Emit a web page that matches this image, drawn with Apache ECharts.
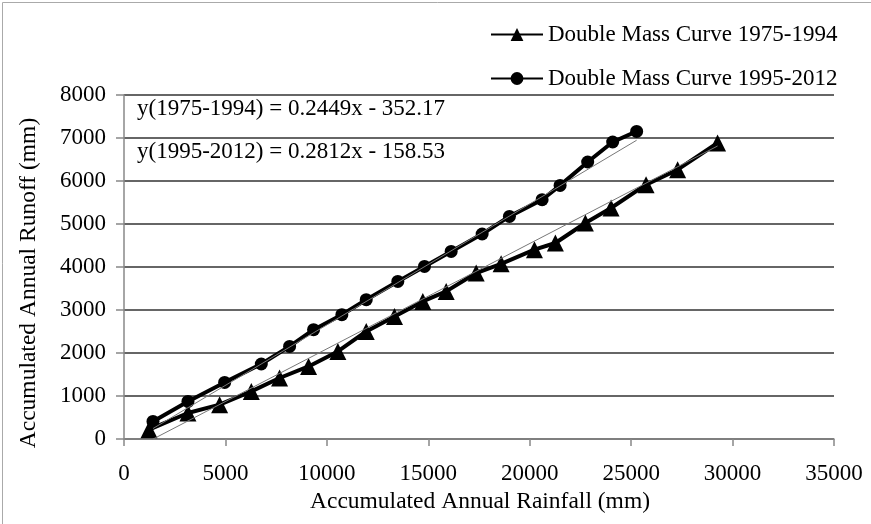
<!DOCTYPE html>
<html>
<head>
<meta charset="utf-8">
<script src="https://cdn.jsdelivr.net/npm/echarts@6/dist/echarts.min.js"></script>
<style>
html,body{margin:0;padding:0;background:#fff;}
#c{width:871px;height:524px;}
</style>
</head>
<body>
<div id="c"></div>
<script>
// Series 1: 1975-1994
const rain1 = [1232, 3153, 4714, 6276, 7670, 9099, 10542, 11941, 13335, 14729, 15882, 17360, 18591, 20232, 21266, 22744, 24010, 25734, 27291, 29261];
const runoff1 = [216, 605, 798, 1107, 1419, 1688, 2037, 2502, 2851, 3200, 3433, 3860, 4073, 4402, 4558, 5023, 5372, 5914, 6263, 6884];
// Series 2: 1995-2012
const rain2 = [1429, 3153, 4961, 6768, 8163, 9345, 10739, 11941, 13498, 14813, 16128, 17655, 19000, 20611, 21498, 22857, 24089, 25271];
const runoff2 = [409, 874, 1316, 1744, 2153, 2542, 2891, 3240, 3665, 4014, 4363, 4767, 5177, 5565, 5898, 6442, 6907, 7153];
// Linear fit coefficients [slope, intercept]
const fit1 = [0.2449, -352.17];
const fit2 = [0.2812, -158.53];
const seriesNames = ['Double Mass Curve 1975-1994', 'Double Mass Curve 1995-2012'];
const eqLabels = ['y(1975-1994) = 0.2449x - 352.17', 'y(1995-2012) = 0.2812x - 158.53'];

const pairs = (xs, ys) => xs.map((x, i) => [x, ys[i]]);
const trend = (xs, f) => {
  const a = Math.min(...xs), b = Math.max(...xs);
  return [[a, f[0] * a + f[1]], [b, f[0] * b + f[1]]];
};
const plain = v => String(v);

const font = 'Liberation Serif';
const chart = echarts.init(document.getElementById('c'), null, {renderer: 'canvas'});
chart.setOption({
  animation: false,
  backgroundColor: '#fff',
  textStyle: {fontFamily: font, color: '#000'},
  grid: {left: 124, right: 37, top: 95, bottom: 85, containLabel: false},
  legend: {
    orient: 'vertical',
    left: 485, top: 18,
    itemWidth: 52, itemHeight: 16, itemGap: 21,
    data: seriesNames,
    textStyle: {fontFamily: font, fontSize: 23, color: '#000'}
  },
  xAxis: {
    type: 'value', min: 0, max: 35000, interval: 5000,
    name: 'Accumulated Annual Rainfall (mm)', nameLocation: 'middle', nameGap: 47,
    nameTextStyle: {fontFamily: font, fontSize: 23.5, color: '#000', padding: [0, 0, 0, 2]},
    axisLine: {show: true, lineStyle: {color: '#888', width: 1.5}},
    axisTick: {show: true, length: 7, lineStyle: {color: '#888', width: 1.5}},
    axisLabel: {fontFamily: font, fontSize: 23, color: '#000', margin: 23, formatter: plain},
    splitLine: {show: false}
  },
  yAxis: {
    type: 'value', min: 0, max: 8000, interval: 1000,
    name: 'Accumulated Annual Runoff (mm)', nameLocation: 'middle', nameGap: 83,
    nameTextStyle: {fontFamily: font, fontSize: 23.5, color: '#000', padding: [0, 32, 0, 0]},
    axisLine: {show: true, lineStyle: {color: '#888', width: 1.5}},
    axisTick: {show: true, length: 8, lineStyle: {color: '#888', width: 1.5}},
    axisLabel: {fontFamily: font, fontSize: 23, color: '#000', margin: 18, formatter: plain},
    splitLine: {show: true, lineStyle: {color: '#333', width: 1.5}}
  },
  graphic: [
    {type: 'text', left: 137, top: 97, style: {text: eqLabels[0], font: '23px "Liberation Serif"', fill: '#000'}},
    {type: 'text', left: 137, top: 140, style: {text: eqLabels[1], font: '23px "Liberation Serif"', fill: '#000'}},
    {type: 'rect', left: 0, top: 0, shape: {x: 0.5, y: 0.5, width: 870, height: 523}, style: {fill: 'none', stroke: '#aaa', lineWidth: 1}, silent: true}
  ],
  series: [
    {
      name: seriesNames[0], type: 'line', data: pairs(rain1, runoff1),
      symbol: 'triangle', symbolSize: 17, showAllSymbol: true,
      lineStyle: {color: '#000', width: 4}, itemStyle: {color: '#000'}, z: 3
    },
    {
      name: seriesNames[1], type: 'line', data: pairs(rain2, runoff2),
      symbol: 'circle', symbolSize: 13, showAllSymbol: true,
      lineStyle: {color: '#000', width: 4}, itemStyle: {color: '#000'}, z: 3
    },
    {
      type: 'line', data: trend(rain1, fit1), symbol: 'none',
      lineStyle: {color: '#777', width: 1}, z: 4, silent: true
    },
    {
      type: 'line', data: trend(rain2, fit2), symbol: 'none',
      lineStyle: {color: '#777', width: 1}, z: 4, silent: true
    }
  ]
});
</script>
</body>
</html>
